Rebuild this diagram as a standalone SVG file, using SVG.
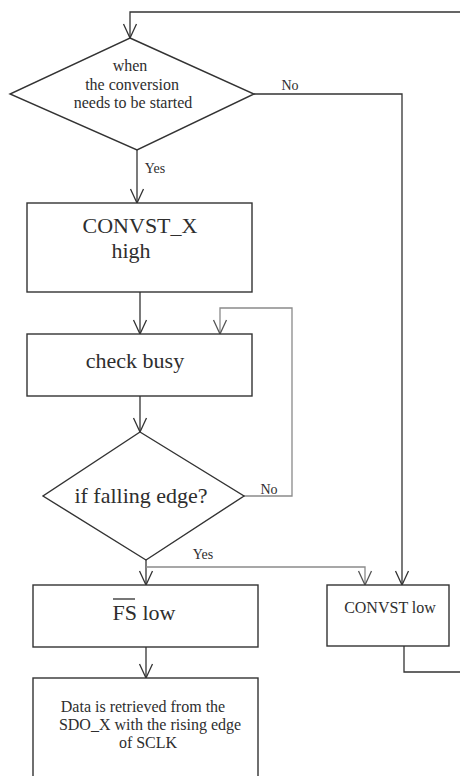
<svg xmlns="http://www.w3.org/2000/svg" width="460" height="776" viewBox="0 0 460 776">
  <style>
    .shape { fill: #ffffff; stroke: #333333; stroke-width: 1.4; }
    .wire { fill: none; stroke: #333333; stroke-width: 1.3; }
    .wire-lt { fill: none; stroke: #8a8a8a; stroke-width: 1.3; }
    text { font-family: "Liberation Serif", "DejaVu Serif", serif; fill: #2e2e2e; text-anchor: middle; }
    .big { font-size: 22px; }
    .mid { font-size: 16px; }
    .sm { font-size: 16px; }
    .lbl { font-size: 14px; }
  </style>
  <defs>
    <marker id="vee" viewBox="-15 -8 16 16" markerWidth="16" markerHeight="16" refX="0" refY="0" orient="auto" markerUnits="userSpaceOnUse">
      <path d="M-14,-6.5 L0,0 L-14,6.5" fill="none" stroke="#333333" stroke-width="1.3"/>
    </marker>
    <marker id="vee-lt" viewBox="-15 -8 16 16" markerWidth="16" markerHeight="16" refX="0" refY="0" orient="auto" markerUnits="userSpaceOnUse">
      <path d="M-14,-6.5 L0,0 L-14,6.5" fill="none" stroke="#555555" stroke-width="1.3"/>
    </marker>
  </defs>

  <rect width="460" height="776" fill="#ffffff"/>

  <g id="connectors">
    <!-- loop back to the start decision -->
    <path class="wire" d="M460,12 L130,12 L130,38" marker-end="url(#vee)"/>
    <!-- start? yes -->
    <path class="wire" d="M137,150 L137,203" marker-end="url(#vee)"/>
    <!-- start? no -> CONVST low -->
    <path class="wire" d="M254,94 L402,94 L402,585" marker-end="url(#vee)"/>
    <!-- CONVST_X high -> check busy -->
    <path class="wire" d="M140,292 L140,334" marker-end="url(#vee)"/>
    <!-- check busy -> falling edge decision -->
    <path class="wire" d="M140,396 L140,432" marker-end="url(#vee)"/>
    <!-- falling edge? no -> back to check busy -->
    <path class="wire-lt" d="M244,496 L292,496 L292,308 L220,308 L220,334" marker-end="url(#vee-lt)"/>
    <!-- falling edge? yes -->
    <path class="wire" d="M146,560 L146,585" marker-end="url(#vee)"/>
    <path class="wire-lt" d="M146,567 L365,567 L365,585" marker-end="url(#vee-lt)"/>
    <!-- FS low -> data read -->
    <path class="wire" d="M146,647 L146,678" marker-end="url(#vee)"/>
    <!-- CONVST low -> loop -->
    <path class="wire" d="M404,646 L404,672 L460,672"/>
    <!-- branch labels -->
    <text class="lbl" x="290" y="90">No</text>
    <text class="lbl" x="155" y="173">Yes</text>
    <text class="lbl" x="269" y="494">No</text>
    <text class="lbl" x="203" y="559">Yes</text>
  </g>

  <g id="start-decision">
    <polygon class="shape" points="130,38 254,94 137,150 10,94"/>
    <text class="mid" x="130" y="71">when</text>
    <text class="mid" x="132" y="90">the conversion</text>
    <text class="mid" x="133" y="108">needs to be started</text>
  </g>

  <g id="convst-x-high">
    <rect class="shape" x="27" y="203" width="225" height="89"/>
    <text class="big" x="140" y="233">CONVST_X</text>
    <text class="big" x="131" y="258">high</text>
  </g>

  <g id="check-busy">
    <rect class="shape" x="27" y="334" width="225" height="62"/>
    <text class="big" x="135" y="368">check busy</text>
  </g>

  <g id="falling-edge-decision">
    <polygon class="shape" points="140,432 244,496 146,560 43,496"/>
    <text class="big" x="141" y="503">if falling edge?</text>
  </g>

  <g id="fs-low">
    <rect class="shape" x="33" y="585" width="225" height="62"/>
    <text class="big" x="144" y="620">FS low</text>
    <line x1="113" y1="599" x2="135" y2="599" stroke="#2e2e2e" stroke-width="1.3"/>
  </g>

  <g id="convst-low">
    <rect class="shape" x="327" y="585" width="122" height="61"/>
    <text class="sm" x="390" y="613">CONVST low</text>
  </g>

  <g id="data-read">
    <rect class="shape" x="33" y="678" width="225" height="110"/>
    <text class="sm" x="143" y="712">Data is retrieved from the</text>
    <text class="sm" x="150" y="730">SDO_X with the rising edge</text>
    <text class="sm" x="148" y="748">of SCLK</text>
  </g>
</svg>
